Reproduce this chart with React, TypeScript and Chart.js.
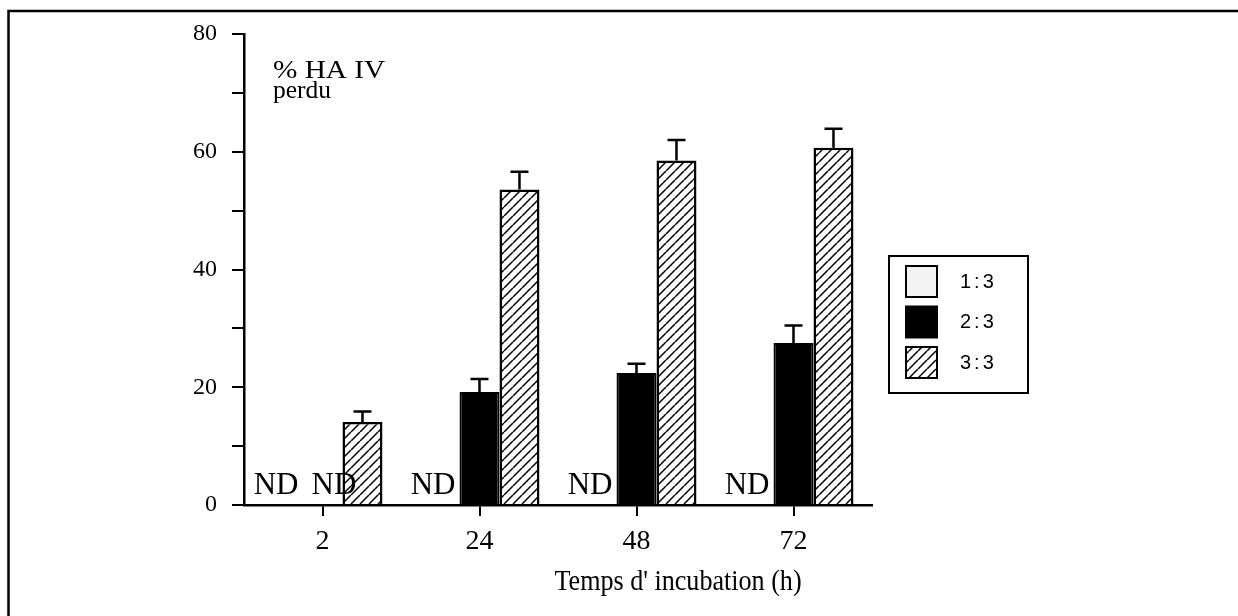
import React, { useEffect, useRef } from 'react';
import { Chart, registerables } from 'chart.js';

Chart.register(...registerables);

// ---- data ----
const categories = ['2', '24', '48', '72'];
const seriesLabels = ['1:3', '2:3', '3:3'];
const values13 = [0, 0, 0, 0];
const values23 = [0, 19.2, 22.4, 27.5];
const values33 = [14.1, 53.6, 58.5, 60.7];
const errors13 = [0, 0, 0, 0];
const errors23 = [0, 2.2, 1.6, 3.0];
const errors33 = [1.8, 3.0, 3.5, 3.2];
const yMajorTicks = [0, 20, 40, 60, 80];
const yTitleLines = ['% HA IV', 'perdu'];
const xTitle = "Temps d' incubation (h)";
const ndLabel = 'ND';

const SERIF = "'Liberation Serif', 'Times New Roman', serif";
const SANS = "'Liberation Sans', Arial, sans-serif";

function makeHatch(ctx: CanvasRenderingContext2D): CanvasPattern | string {
  const s = 9;
  const c = document.createElement('canvas');
  c.width = s;
  c.height = s;
  const g = c.getContext('2d')!;
  g.fillStyle = '#ffffff';
  g.fillRect(0, 0, s, s);
  g.strokeStyle = '#000000';
  g.lineWidth = 1.5;
  g.beginPath();
  for (const k of [-1, 0, 1]) {
    g.moveTo(k * s, s);
    g.lineTo(k * s + s, 0);
  }
  g.stroke();
  return ctx.createPattern(c, 'repeat') || '#888';
}

function drawText(
  ctx: CanvasRenderingContext2D,
  text: string,
  x: number,
  y: number,
  font: string,
  align: CanvasTextAlign,
  scaleX = 1,
  baseline: CanvasTextBaseline = 'alphabetic',
  spacing = '0px'
) {
  ctx.save();
  ctx.translate(x, y);
  ctx.scale(scaleX, 1);
  ctx.font = font;
  ctx.fillStyle = '#000';
  ctx.textAlign = align;
  ctx.textBaseline = baseline;
  (ctx as any).letterSpacing = spacing;
  ctx.fillText(text, 0, 0);
  ctx.restore();
}

const errorsBySeries = [errors13, errors23, errors33];

const decorPlugin = {
  id: 'decor',
  beforeDraw(chart: any) {
    const ctx: CanvasRenderingContext2D = chart.ctx;
    ctx.save();
    ctx.fillStyle = '#fff';
    ctx.fillRect(0, 0, chart.width, chart.height);
    ctx.strokeStyle = '#000';
    ctx.lineWidth = 2.5;
    ctx.beginPath();
    ctx.moveTo(8.5, chart.height);
    ctx.lineTo(8.5, 11);
    ctx.lineTo(chart.width, 11);
    ctx.stroke();
    ctx.restore();
  },
  afterDatasetsDraw(chart: any) {
    const ctx: CanvasRenderingContext2D = chart.ctx;
    const yScale = chart.scales.y;
    const area = chart.chartArea;
    // error bars
    ctx.save();
    ctx.strokeStyle = '#000';
    ctx.lineWidth = 2.5;
    chart.data.datasets.forEach((ds: any, d: number) => {
      const meta = chart.getDatasetMeta(d);
      ds.data.forEach((v: number, i: number) => {
        const e = errorsBySeries[d][i];
        if (!v || !e) return;
        const el = meta.data[i];
        const yTop = yScale.getPixelForValue(v);
        const yErr = yScale.getPixelForValue(v + e);
        ctx.beginPath();
        ctx.moveTo(el.x, yTop);
        ctx.lineTo(el.x, yErr);
        ctx.moveTo(el.x - 9, yErr);
        ctx.lineTo(el.x + 9, yErr);
        ctx.stroke();
      });
    });
    ctx.restore();
    // ND labels
    const ndFont = `31px ${SERIF}`;
    ctx.save();
    ctx.font = ndFont;
    const ndW = ctx.measureText(ndLabel).width;
    ctx.restore();
    const prevEnd: Record<number, number> = {};
    chart.data.datasets.forEach((ds: any, d: number) => {
      const meta = chart.getDatasetMeta(d);
      ds.data.forEach((v: number, i: number) => {
        if (v !== 0) return;
        const el = meta.data[i];
        let left = el.x + el.width / 2 - 4 - ndW;
        if (prevEnd[i] !== undefined && left < prevEnd[i] + 13) left = prevEnd[i] + 13;
        drawText(ctx, ndLabel, left, area.bottom - 11, ndFont, 'left');
        prevEnd[i] = left + ndW;
      });
    });
  },
  afterDraw(chart: any) {
    const ctx: CanvasRenderingContext2D = chart.ctx;
    const area = chart.chartArea;
    const xScale = chart.scales.x;
    // y title (inside plot, top-left)
    drawText(ctx, yTitleLines[0], area.left + 29, 78, `25px ${SERIF}`, 'left', 1.17);
    drawText(ctx, yTitleLines[1], area.left + 29, 98, `25px ${SERIF}`, 'left', 1.02);
    // x title
    const xMid = (xScale.getPixelForValue(2) + xScale.getPixelForValue(3)) / 2 - 37;
    drawText(ctx, xTitle, xMid, 590, `29px ${SERIF}`, 'center', 0.9);
    // legend
    const lx = area.right + 17;
    const ly = 256;
    const lw = 139;
    const lh = 137;
    ctx.save();
    ctx.strokeStyle = '#000';
    ctx.lineWidth = 2;
    ctx.strokeRect(lx, ly, lw, lh);
    chart.data.datasets.forEach((ds: any, d: number) => {
      const sx = lx + 17;
      const sy = ly + 10 + d * 40.5;
      ctx.fillStyle = ds.legendFill || ds.backgroundColor;
      ctx.fillRect(sx, sy, 31, 31);
      ctx.lineWidth = 2;
      ctx.strokeStyle = '#000';
      ctx.strokeRect(sx, sy, 31, 31);
      drawText(ctx, ds.label, lx + 71, sy + 16, `20px ${SANS}`, 'left', 1, 'middle', '3px');
    });
    ctx.restore();
  },
};

export default function App() {
  const canvasRef = useRef<HTMLCanvasElement | null>(null);

  useEffect(() => {
    const canvas = canvasRef.current;
    if (!canvas) return;
    const ctx = canvas.getContext('2d')!;
    const hatch = makeHatch(ctx);
    const chart = new Chart(canvas, {
      type: 'bar',
      data: {
        labels: categories,
        datasets: [
          {
            label: seriesLabels[0],
            data: values13,
            backgroundColor: '#f3f3f3',
            borderColor: '#000',
            borderWidth: 2,
          } as any,
          {
            label: seriesLabels[1],
            data: values23,
            backgroundColor: '#000',
            borderColor: '#000',
            borderWidth: 2,
          },
          {
            label: seriesLabels[2],
            data: values33,
            backgroundColor: hatch as any,
            borderColor: '#000',
            borderWidth: 2.5,
          },
        ],
      },
      options: {
        responsive: false,
        animation: false,
        devicePixelRatio: 1,
        layout: { padding: { left: 0, top: 34, right: 366, bottom: 0 } },
        datasets: {
          bar: { categoryPercentage: 0.764, barPercentage: 1 },
        },
        plugins: {
          legend: { display: false },
          tooltip: { enabled: false },
          title: { display: false },
        },
        scales: {
          x: {
            offset: true,
            grid: {
              display: true,
              drawOnChartArea: false,
              drawTicks: true,
              offset: false,
              tickLength: 11,
              color: '#000',
              lineWidth: 2,
            },
            border: { display: true, color: '#000', width: 2.5 },
            ticks: {
              color: '#000',
              padding: 9,
              font: { family: SERIF, size: 28 },
              maxRotation: 0,
            },
            afterFit: (scale: any) => {
              scale.height = 111;
            },
          },
          y: {
            min: 0,
            max: 80,
            grid: {
              display: true,
              drawOnChartArea: false,
              drawTicks: true,
              tickLength: 12,
              color: '#000',
              lineWidth: 2,
            },
            border: { display: true, color: '#000', width: 2.5 },
            ticks: {
              stepSize: 10,
              color: '#000',
              padding: 15,
              font: { family: SERIF, size: 24 },
              callback: (v: any) => (yMajorTicks.includes(Number(v)) ? String(v) : ''),
            },
            afterFit: (scale: any) => {
              scale.width = 244;
            },
          },
        },
      },
      plugins: [decorPlugin],
    });
    return () => chart.destroy();
  }, []);

  return (
    <div style={{ position: 'fixed', left: 0, top: 0, width: 1238, height: 616, background: '#fff' }}>
      <canvas ref={canvasRef} width={1238} height={616} style={{ display: 'block' }} />
    </div>
  );
}
